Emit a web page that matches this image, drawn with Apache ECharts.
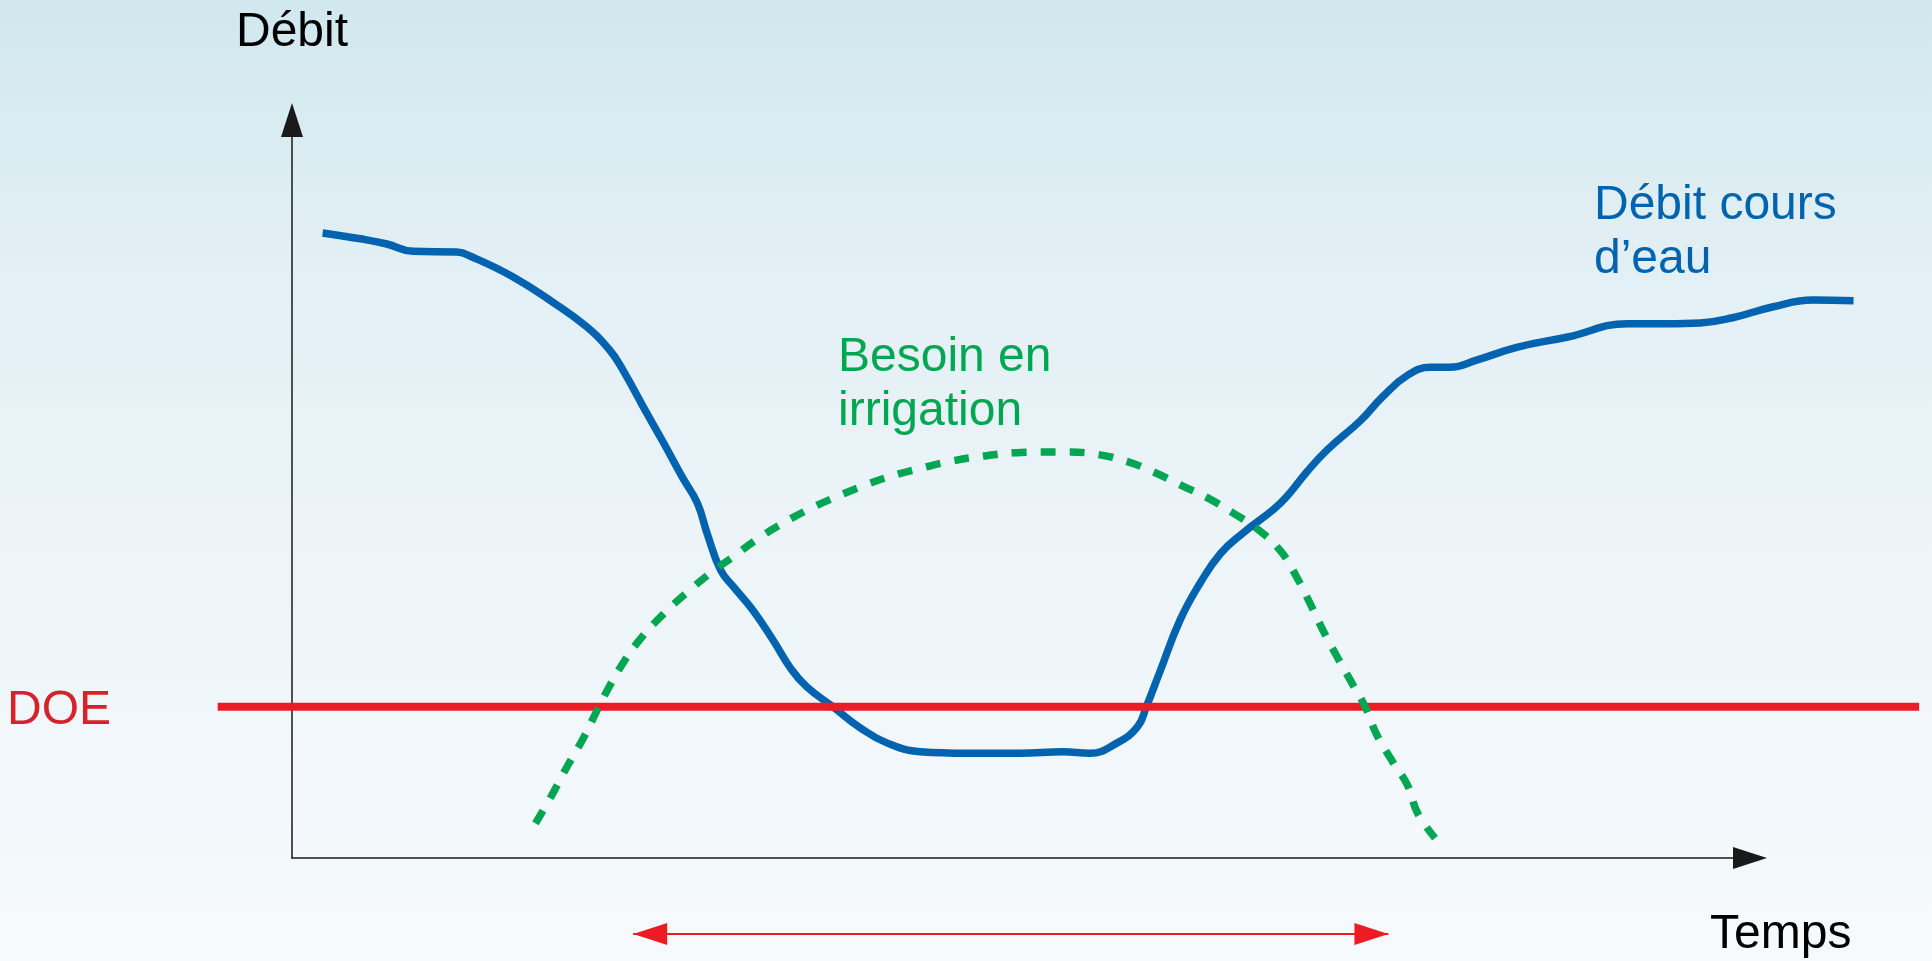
<!DOCTYPE html>
<html lang="fr">
<head>
<meta charset="utf-8">
<title>Débit cours d'eau et besoin en irrigation</title>
<script src="https://cdn.jsdelivr.net/npm/echarts@6/dist/echarts.min.js"></script>
<style>
  html, body { margin: 0; padding: 0; width: 100%; height: 100%; overflow: hidden; }
  #chart { width: 1932px; height: 961px; }
</style>
</head>
<body>
<div id="chart"></div>
<script>
// River flow over time (time and flow in arbitrary units)
const flowTime = [2.1, 4.7, 6.5, 8.3, 11.3, 12.4, 15.2, 17.9, 20.2, 21.8, 22.7, 24.1, 25.5, 26.8, 27.8, 28.5,
  29.4, 30.3, 31.6, 33.0, 34.2, 35.3, 37.1, 39.0, 40.8, 43.1, 46.3, 49.9, 52.9, 54.7, 56.6, 58.0, 58.6,
  59.5, 60.9, 62.3, 63.7, 65.2, 67.3, 68.2, 69.6, 71.0, 73.3, 74.8, 76.5, 78.1, 79.4, 81.3, 84.0,
  87.5, 91.6, 94.3, 96.6, 98.8, 101.6, 104.3, 107.1];
const flowValue = [84.7, 83.9, 83.2, 82.2, 82.1, 81.4, 78.7, 75.3, 72.0, 68.8, 66.1, 61.1, 56.2, 51.5, 48.1, 43.8,
  39.0, 36.7, 33.6, 29.5, 25.7, 23.2, 20.5, 17.6, 15.6, 14.4, 14.2, 14.2, 14.4, 14.2, 15.6, 17.8, 20.5,
  25.1, 32.2, 37.3, 41.3, 44.0, 47.2, 48.9, 52.3, 55.3, 59.3, 62.5, 65.4, 66.5, 66.5, 67.5, 69.2,
  70.6, 72.4, 72.4, 72.5, 73.2, 74.7, 75.6, 75.5];

// Irrigation demand over the same period
const needTime = [16.7, 17.9, 18.9, 20.0, 20.9, 21.7, 22.7, 23.9, 25.5, 27.1, 28.7, 30.3, 31.9, 33.7, 35.5, 37.4,
  39.4, 41.2, 43.3, 45.3, 47.2, 49.5, 51.3, 53.2, 55.2, 57.3, 59.1, 61.1, 62.8, 64.5, 66.2, 67.8, 68.9,
  69.8, 70.7, 71.7, 72.7, 73.6, 74.4, 75.5, 76.5, 77.2, 78.4];
const needValue = [4.7, 8.8, 12.5, 16.3, 19.9, 23.0, 26.4, 29.7, 33.1, 36.0, 38.6, 40.9, 43.2, 45.4, 47.3, 49.0,
  50.6, 51.8, 52.9, 53.8, 54.4, 54.9, 55.0, 55.0, 54.7, 53.7, 52.3, 50.4, 48.8, 46.8, 44.6, 41.6, 38.1,
  34.6, 30.9, 27.2, 23.7, 20.5, 16.7, 13.0, 9.9, 6.1, 2.7];

// Objective flow threshold (DOE) and the span it is drawn over
const doeLevel = 20.5;
const doeSpan = [-5.1, 111.6];

// Irrigation period marker, drawn under the time axis
const periodSpan = [23.4, 75.2];
const periodLevel = -10.3;

// Visible axes: 0..100 on both
const axisRange = { x: [0, 100], y: [0, 100] };
// Drawing area: same scale, wider range so the curves and the DOE line can run past the axes
const drawRange = { x: [-6, 112], y: [-13, 100] };

const W = 1932, H = 961;
const axisBox = { left: 292, right: 1750, top: 120, bottom: 858 };

const FONT = '"Liberation Sans", Arial, Helvetica, sans-serif';
const BLUE = '#0063B0';
const GREEN = '#00A651';
const RED = '#ED1C24';

const zip = (xs, ys) => xs.map((x, i) => [x, ys[i]]);

// pixel size of one unit on each axis
const pxX = (axisBox.right - axisBox.left) / (axisRange.x[1] - axisRange.x[0]);
const pxY = (axisBox.bottom - axisBox.top) / (axisRange.y[1] - axisRange.y[0]);
const drawBox = {
  left: axisBox.left + (drawRange.x[0] - axisRange.x[0]) * pxX,
  right: axisBox.left + (drawRange.x[1] - axisRange.x[0]) * pxX,
  top: axisBox.bottom - (drawRange.y[1] - axisRange.y[0]) * pxY,
  bottom: axisBox.bottom - (drawRange.y[0] - axisRange.y[0]) * pxY
};

const chart = echarts.init(document.getElementById('chart'), null, { renderer: 'canvas' });

const arrowAxisLine = {
  show: true,
  symbol: ['none', 'triangle'],
  symbolSize: [22, 34],
  lineStyle: { color: '#1a1a1a', width: 1.5 }
};
const hidden = {
  axisTick: { show: false }, axisLabel: { show: false }, splitLine: { show: false }
};

chart.setOption({
  animation: false,
  backgroundColor: {
    type: 'linear', x: 0, y: 0, x2: 0, y2: 1,
    colorStops: [
      { offset: 0, color: '#D0E8EE' },
      { offset: 0.25, color: '#E1EFF4' },
      { offset: 0.55, color: '#ECF4F8' },
      { offset: 1, color: '#F6FAFD' }
    ]
  },
  grid: [
    {
      left: axisBox.left, right: W - axisBox.right,
      top: axisBox.top, bottom: H - axisBox.bottom
    },
    {
      left: drawBox.left, right: W - drawBox.right,
      top: drawBox.top, bottom: H - drawBox.bottom
    }
  ],
  xAxis: [
    Object.assign({
      type: 'value', gridIndex: 0, min: axisRange.x[0], max: axisRange.x[1],
      axisLine: arrowAxisLine
    }, hidden),
    Object.assign({
      type: 'value', gridIndex: 1, min: drawRange.x[0], max: drawRange.x[1],
      axisLine: { show: false }
    }, hidden)
  ],
  yAxis: [
    Object.assign({
      type: 'value', gridIndex: 0, min: axisRange.y[0], max: axisRange.y[1],
      name: 'Débit', nameLocation: 'end', nameGap: 60,
      nameTextStyle: { fontSize: 48, fontFamily: FONT, color: '#000', lineHeight: 54 },
      axisLine: arrowAxisLine
    }, hidden),
    Object.assign({
      type: 'value', gridIndex: 1, min: drawRange.y[0], max: drawRange.y[1],
      axisLine: { show: false }
    }, hidden)
  ],
  series: [
    {
      name: 'Débit cours d\'eau',
      type: 'line',
      xAxisIndex: 1, yAxisIndex: 1,
      data: zip(flowTime, flowValue),
      smooth: 0.45,
      symbol: 'none',
      lineStyle: { color: BLUE, width: 7.5, cap: 'butt', join: 'round' },
      z: 2
    },
    {
      name: 'DOE',
      type: 'line',
      xAxisIndex: 1, yAxisIndex: 1,
      data: doeSpan.map(t => [t, doeLevel]),
      symbol: 'none',
      lineStyle: { color: RED, width: 8, cap: 'butt' },
      z: 3
    },
    {
      name: 'Besoin en irrigation',
      type: 'line',
      xAxisIndex: 1, yAxisIndex: 1,
      data: zip(needTime, needValue),
      smooth: 0.45,
      symbol: 'none',
      lineStyle: { color: GREEN, width: 7.5, type: [15, 14], cap: 'butt' },
      z: 4
    },
    {
      name: 'Période d\'irrigation',
      type: 'line',
      xAxisIndex: 1, yAxisIndex: 1,
      data: [
        { value: [periodSpan[0], periodLevel], symbolRotate: 90, symbolOffset: [17, 0] },
        { value: [periodSpan[1], periodLevel], symbolRotate: -90, symbolOffset: [-17, 0] }
      ],
      symbol: 'triangle',
      symbolSize: [22, 34],
      showSymbol: true,
      itemStyle: { color: RED, borderWidth: 0 },
      lineStyle: { color: RED, width: 2 },
      emphasis: { disabled: true },
      z: 3
    }
  ],
  graphic: [
    {
      type: 'text', left: 7, top: 684, silent: true,
      style: { text: 'DOE', fill: '#D5222B', fontSize: 48, fontFamily: FONT, lineHeight: 54 }
    },
    {
      type: 'text', left: 1710, top: 908, silent: true,
      style: { text: 'Temps', fill: '#000', fontSize: 48, fontFamily: FONT, lineHeight: 54 }
    },
    {
      type: 'text', left: 1594, top: 179, silent: true,
      style: { text: 'Débit cours\nd\u2019eau', fill: BLUE, fontSize: 48, fontFamily: FONT, lineHeight: 54 }
    },
    {
      type: 'text', left: 838, top: 331, silent: true,
      style: { text: 'Besoin en\nirrigation', fill: GREEN, fontSize: 48, fontFamily: FONT, lineHeight: 54 }
    }
  ]
});
</script>
</body>
</html>
